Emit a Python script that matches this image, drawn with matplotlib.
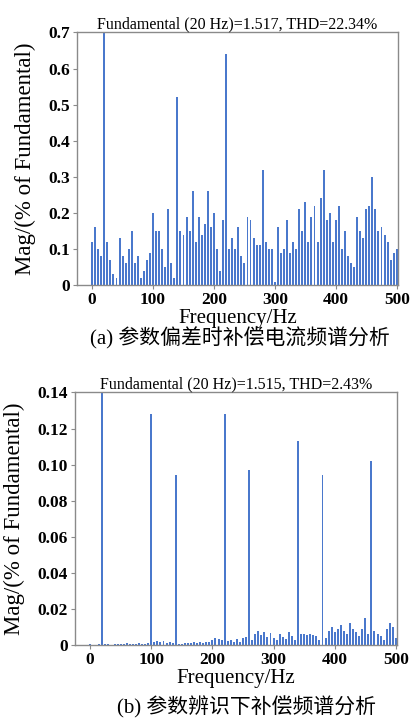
import numpy as np
import matplotlib
matplotlib.use("Agg")
import matplotlib.pyplot as plt

# FFT bins (Hz), 5 Hz resolution
freq = np.arange(0, 501, 5)

# (a) compensation current spectrum with parameter deviation, % of fundamental
mag_a = [
    0.12, 0.16, 0.10, 0.08, 100.0, 0.12, 0.07, 0.03, 0.02, 0.13,
    0.08, 0.06, 0.10, 0.15, 0.06, 0.08, 0.02, 0.04, 0.07, 0.09,
    0.20, 0.15, 0.15, 0.10, 0.05, 0.21, 0.06, 0.02, 0.52, 0.15,
    0.14, 0.19, 0.15, 0.26, 0.12, 0.19, 0.14, 0.17, 0.26, 0.16,
    0.20, 0.10, 0.04, 0.18, 0.64, 0.10, 0.13, 0.10, 0.16, 0.08,
    0.06, 0.19, 0.18, 0.13, 0.11, 0.11, 0.32, 0.12, 0.10, 0.10,
    0.01, 0.16, 0.09, 0.10, 0.18, 0.09, 0.12, 0.10, 0.21, 0.15,
    0.23, 0.12, 0.19, 0.22, 0.12, 0.24, 0.32, 0.18, 0.20, 0.12,
    0.18, 0.22, 0.10, 0.15, 0.08, 0.06, 0.05, 0.19, 0.15, 0.13,
    0.21, 0.22, 0.30, 0.21, 0.15, 0.16, 0.14, 0.12, 0.07, 0.09,
    0.10,
]

# (b) compensation spectrum with identified parameters, % of fundamental
mag_b = [
    0.0005, 0.0003, 0.0003, 0.0005, 100.0, 0.0008, 0.0004, 0.0003, 0.0005, 0.0006,
    0.0008, 0.0005, 0.0009, 0.0006, 0.0008, 0.0007, 0.0010, 0.0008, 0.0006, 0.0010,
    0.128, 0.0020, 0.0025, 0.0018, 0.0022, 0.0012, 0.0015, 0.0010, 0.094, 0.0008,
    0.0006, 0.0010, 0.0012, 0.0009, 0.0015, 0.0012, 0.0018, 0.0014, 0.0020, 0.0017,
    0.0030, 0.0040, 0.0035, 0.0028, 0.128, 0.0025, 0.0030, 0.0018, 0.0035, 0.0020,
    0.0040, 0.0045, 0.097, 0.0030, 0.0060, 0.0080, 0.0055, 0.0070, 0.0045, 0.0065,
    0.0040, 0.0030, 0.0060, 0.0045, 0.0035, 0.0075, 0.0050, 0.0030, 0.113, 0.0060,
    0.0060, 0.0058, 0.0060, 0.0055, 0.0050, 0.0030, 0.094, 0.0040, 0.0080, 0.0100,
    0.0070, 0.0090, 0.0110, 0.0080, 0.0060, 0.0120, 0.0090, 0.0070, 0.0050, 0.0090,
    0.0150, 0.0060, 0.102, 0.0080, 0.0060, 0.0050, 0.0030, 0.0090, 0.0120, 0.0100,
    0.0040,
]

title_a = "Fundamental (20 Hz)=1.517, THD=22.34%"
title_b = "Fundamental (20 Hz)=1.515, THD=2.43%"
caption_a = "(a) 参数偏差时补偿电流频谱分析"
caption_b = "(b) 参数辨识下补偿频谱分析"
xlabel = "Frequency/Hz"
ylabel = "Mag/(% of Fundamental)"
yticks_a = [0, 0.1, 0.2, 0.3, 0.4, 0.5, 0.6, 0.7]
yticklabels_a = ["0", "0.1", "0.2", "0.3", "0.4", "0.5", "0.6", "0.7"]
yticks_b = [0, 0.02, 0.04, 0.06, 0.08, 0.10, 0.12, 0.14]
yticklabels_b = ["0", "0.02", "0.04", "0.06", "0.08", "0.10", "0.12", "0.14"]
xticks = [0, 100, 200, 300, 400, 500]

SERIF = "Liberation Serif"
CJK = ["Liberation Serif", "Noto Sans CJK SC"]
BAR = "#4a78cc"
SPINE = "#8a8a8a"

fig = plt.figure(figsize=(4.18, 7.2), dpi=100)
fig.patch.set_facecolor("white")

ax_a = fig.add_axes([0.184, 0.604, 0.768, 0.351])
ax_b = fig.add_axes([0.179, 0.104, 0.771, 0.351])


def style(ax, ymax, yt, ytl, title):
    ax.set_xlim(-25, 502)
    ax.set_ylim(0, ymax)
    ax.set_xticks(xticks)
    ax.set_xticklabels([str(t) for t in xticks], family=SERIF, fontsize=12.5,
                       weight="bold")
    ax.set_yticks(yt)
    ax.set_yticklabels(ytl, family=SERIF, fontsize=12.5, weight="bold")
    for s in ax.spines.values():
        s.set_color(SPINE)
        s.set_linewidth(1.0)
    ax.tick_params(direction="out", length=3, width=0.8, color=SPINE, pad=2)
    ax.set_xlabel(xlabel, family=SERIF, fontsize=15, labelpad=1)
    ax.set_ylabel(ylabel, family=SERIF, fontsize=16.5, labelpad=9)
    ax.set_title(title, family=SERIF, fontsize=11.5, pad=3)


ax_a.bar(freq, mag_a, width=3.2, color=BAR, linewidth=0)
style(ax_a, 0.7, yticks_a, yticklabels_a, title_a)

ax_b.bar(freq, mag_b, width=3.2, color=BAR, linewidth=0)
style(ax_b, 0.14, yticks_b, yticklabels_b, title_b)

fig.text(0.575, 1 - 338 / 720, caption_a, family=CJK, fontsize=15,
         weight="medium", ha="center", va="center")
fig.text(0.59, 1 - 707 / 720, caption_b, family=CJK, fontsize=15,
         weight="medium", ha="center", va="center")

fig.savefig("out.png", dpi=100, facecolor="white")
